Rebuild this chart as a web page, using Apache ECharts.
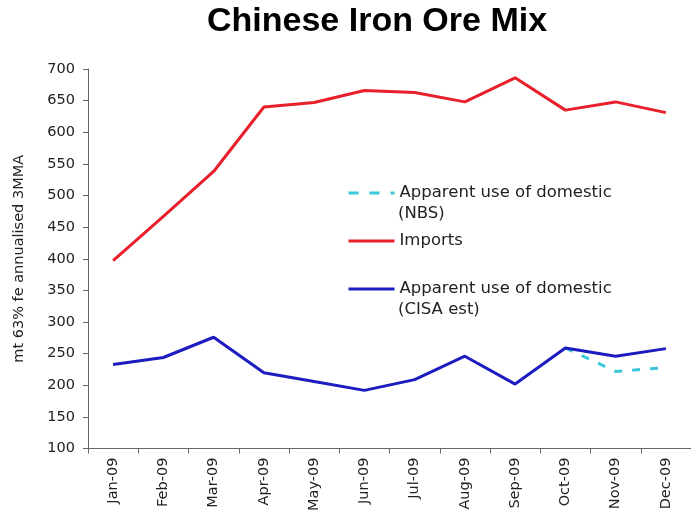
<!DOCTYPE html>
<html>
<head>
<meta charset="utf-8">
<script src="https://cdn.jsdelivr.net/npm/echarts@6/dist/echarts.min.js"></script>
<style>
  html, body { margin: 0; padding: 0; background: #fff; }
  #chart { width: 691px; height: 514px; }
</style>
</head>
<body>
<div id="chart"></div>
<script>
// Months of 2009
const months = ['Jan-09', 'Feb-09', 'Mar-09', 'Apr-09', 'May-09', 'Jun-09',
                'Jul-09', 'Aug-09', 'Sep-09', 'Oct-09', 'Nov-09', 'Dec-09'];

// mt 63% Fe, annualised 3-month moving average
const imports = [397, 467, 538, 640, 647, 666, 663, 648, 686, 635, 648, 631];
const domesticCisa = [233, 244, 276, 220, 206, 192, 209, 246, 202, 259, 246, 258];
const domesticNbs = [null, null, null, null, null, null, null, null, null, 259, 222, 228];

// Legend wording: first line goes in the legend, second line sits underneath it
const legendLabels = {
  nbs: ['Apparent use of domestic', '(NBS)'],
  imports: ['Imports'],
  cisa: ['Apparent use of domestic', '(CISA est)']
};

const FONT = 'DejaVu Sans';
const LEGEND_FONT_SIZE = 16.5;
const chart = echarts.init(document.getElementById('chart'));

const legendText = { fontFamily: FONT, fontSize: LEGEND_FONT_SIZE, color: '#222', lineHeight: 20 };
const legendBase = {
  orient: 'vertical', left: 342, itemWidth: 46, itemHeight: 12, itemGap: 0,
  selectedMode: false,
  itemStyle: { opacity: 0 },
  lineStyle: { width: 3 },
  textStyle: legendText,
  formatter: key => legendLabels[key][0]
};

chart.setOption({
  animation: false,
  title: {
    text: 'Chinese Iron Ore Mix',
    left: 202, top: 0,
    textStyle: { fontFamily: 'Liberation Sans', fontWeight: 'bold', fontSize: 34, color: '#000' }
  },
  legend: [
    Object.assign({}, legendBase, {
      top: 178, data: ['nbs'],
      lineStyle: { width: 3, type: [10, 11] }
    }),
    Object.assign({}, legendBase, { top: 226, data: ['imports'] }),
    Object.assign({}, legendBase, { top: 274, data: ['cisa'] })
  ],
  graphic: [
    {
      type: 'text', left: 398, top: 205,
      style: { text: legendLabels.nbs[1], font: LEGEND_FONT_SIZE + 'px "DejaVu Sans"', fill: '#222' }
    },
    {
      type: 'text', left: 398, top: 301,
      style: { text: legendLabels.cisa[1], font: LEGEND_FONT_SIZE + 'px "DejaVu Sans"', fill: '#222' }
    }
  ],
  grid: { left: 88, right: 0, top: 69, bottom: 65 },
  xAxis: {
    type: 'category',
    data: months,
    boundaryGap: true,
    axisLine: { lineStyle: { color: '#666', width: 1 } },
    axisTick: { show: true, length: 5, lineStyle: { color: '#666' } },
    axisLabel: {
      rotate: 90, margin: 9, color: '#222',
      fontFamily: FONT, fontSize: 14.5
    },
    splitLine: { show: false }
  },
  yAxis: {
    type: 'value',
    min: 100, max: 700, interval: 50,
    name: 'mt 63% fe annualised 3MMA',
    nameLocation: 'middle',
    nameRotate: 90,
    nameGap: 61,
    nameTextStyle: { fontFamily: FONT, fontSize: 14.5, color: '#222' },
    axisLine: { show: true, lineStyle: { color: '#666', width: 1 } },
    axisTick: { show: true, length: 5, lineStyle: { color: '#666' } },
    axisLabel: { margin: 13, color: '#222', fontFamily: FONT, fontSize: 14.5 },
    splitLine: { show: false }
  },
  series: [
    {
      name: 'nbs',
      type: 'line',
      data: domesticNbs,
      symbol: 'none',
      connectNulls: false,
      lineStyle: { color: '#3cc8d8', width: 3, type: [8, 10] },
      itemStyle: { color: '#3cc8d8' }
    },
    {
      name: 'imports',
      type: 'line',
      data: imports,
      symbol: 'none',
      lineStyle: { color: '#e8202c', width: 3 },
      itemStyle: { color: '#e8202c' }
    },
    {
      name: 'cisa',
      type: 'line',
      data: domesticCisa,
      symbol: 'none',
      lineStyle: { color: '#1c1cc0', width: 3 },
      itemStyle: { color: '#1c1cc0' }
    }
  ]
});
</script>
</body>
</html>
